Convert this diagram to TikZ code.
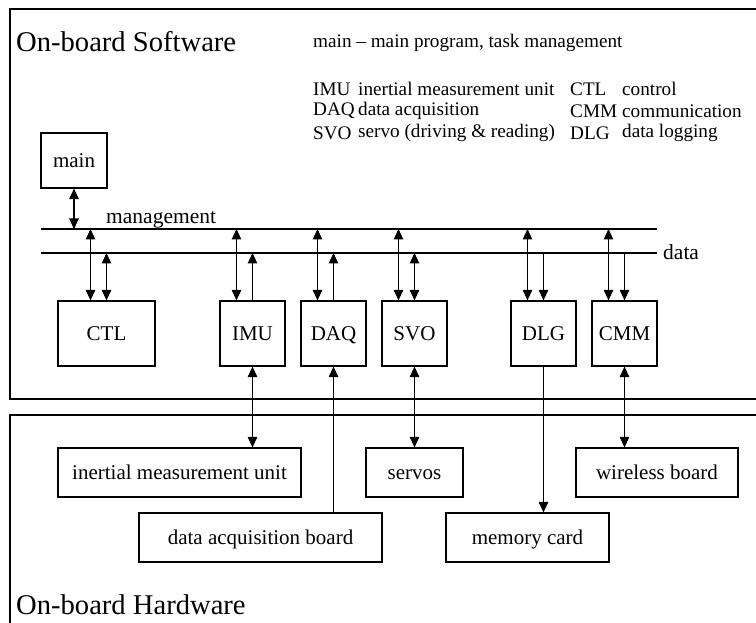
\documentclass[tikz,border=0pt]{standalone}
\usepackage{fontspec}
\setmainfont{Liberation Serif}
\usetikzlibrary{arrows.meta}
\begin{document}
\begin{tikzpicture}[x=1pt,y=-1pt,
  box/.style={draw,line width=1.2pt,inner sep=0pt,text height=14pt,text depth=0pt,font=\fontsize{21}{24}\selectfont},
  frame/.style={draw,line width=1.3pt},
  bus/.style={line width=1.2pt},
  conn/.style={line width=1.1pt},
  tip/.tip={Triangle[length=10.5pt,width=9.5pt]},
  arr/.style={conn,-tip},
  darr/.style={conn,tip-tip},
  title/.style={inner sep=0pt,anchor=base west,font=\fontsize{28.6}{32}\selectfont},
  legend/.style={inner sep=0pt,anchor=west,font=\fontsize{19.2}{22}\selectfont},
  lbl/.style={inner sep=0pt,font=\fontsize{21.5}{24}\selectfont}]
\useasboundingbox (0,0) rectangle (756,623);
\begin{scope}
\clip (0,0) rectangle (756,623);
\draw[frame] (10,9) rectangle (780,399);
\draw[frame] (10,415) rectangle (780,660);
\end{scope}

% titles
\node[title] (tsw) at (16,52) {On-board Software};
\node[title] (thw) at (16,614) {On-board Hardware};

% legend
\node[legend] (lmain) at (313,43) {main -- main program, task management};
\node[legend] (limu) at (313,89) {IMU};
\node[legend] (limud) at (358,89) {inertial measurement unit};
\node[legend] (ldaq) at (313,111) {DAQ};
\node[legend] (ldaqd) at (358,111) {data acquisition};
\node[legend] (lsvo) at (313,133) {SVO};
\node[legend] (lsvod) at (358,133) {servo (driving \& reading)};
\node[legend] (lctl) at (570,89) {CTL};
\node[legend] (lctld) at (622,89) {control};
\node[legend] (lcmm) at (570,111) {CMM};
\node[legend] (lcmmd) at (622,111) {communication};
\node[legend] (ldlg) at (570,133) {DLG};
\node[legend] (ldlgd) at (622,133) {data logging};

% buses
\coordinate (mL) at (41,229);
\coordinate (mR) at (657,229);
\coordinate (dL) at (41,253);
\coordinate (dR) at (657,253);
\draw[bus] (mL) -- (mR);
\draw[bus] (dL) -- (dR);
\node[lbl,anchor=base west] (lmg) at (106,224) {management};
\node[lbl,anchor=west] (ldata) at (663,252) {data};

% software boxes
\node[box,minimum width=66pt,minimum height=55pt] (main) at (74,160.5) {main};
\node[box,minimum width=97pt,minimum height=65pt] (ctl) at (106.5,333.5) {CTL};
\node[box,minimum width=65pt,minimum height=65pt] (imu) at (252.5,333.5) {IMU};
\node[box,minimum width=65pt,minimum height=65pt] (daq) at (333.5,333.5) {DAQ};
\node[box,minimum width=65pt,minimum height=65pt] (svo) at (414.5,333.5) {SVO};
\node[box,minimum width=65pt,minimum height=65pt] (dlg) at (543.5,333.5) {DLG};
\node[box,minimum width=65pt,minimum height=65pt] (cmm) at (624.5,333.5) {CMM};

% hardware boxes
\node[box,minimum width=243pt,minimum height=49pt] (himu) at (179.5,472.5) {inertial measurement unit};
\node[box,minimum width=97pt,minimum height=49pt] (hsvo) at (414.5,472.5) {servos};
\node[box,minimum width=162pt,minimum height=49pt] (hwl) at (657,472.5) {wireless board};
\node[box,minimum width=243pt,minimum height=49pt] (hdaq) at (260.5,537.5) {data acquisition board};
\node[box,minimum width=163pt,minimum height=49pt] (hmem) at (527.5,537.5) {memory card};

% main to management
\draw[darr] (main.south) -- (main.south |- mL);

% left taps (management)
\foreach \b in {ctl,imu,daq,svo,dlg,cmm}{
  \coordinate (\b L) at ([xshift=-16pt]\b.north);
  \coordinate (\b R) at (\b.north);
  \coordinate (\b B) at (\b.south);
  \draw[darr] (\b L) -- (\b L |- mL);
}
% right taps (data)
\draw[darr] (ctlR) -- (ctlR |- dL);
\draw[arr] (imuR) -- (imuR |- dL);
\draw[arr] (daqR) -- (daqR |- dL);
\draw[darr] (svoR) -- (svoR |- dL);
\draw[arr] (dlgR |- dL) -- (dlgR);
\draw[arr] (cmmR |- dL) -- (cmmR);

% hardware links
\draw[darr] (imuB) -- (imuB |- himu.north);
\draw[arr] (daqB |- hdaq.north) -- (daqB);
\draw[darr] (svoB) -- (svoB |- hsvo.north);
\draw[arr] (dlgB) -- (dlgB |- hmem.north);
\draw[darr] (cmmB) -- (cmmB |- hwl.north);
\end{tikzpicture}
\end{document}
